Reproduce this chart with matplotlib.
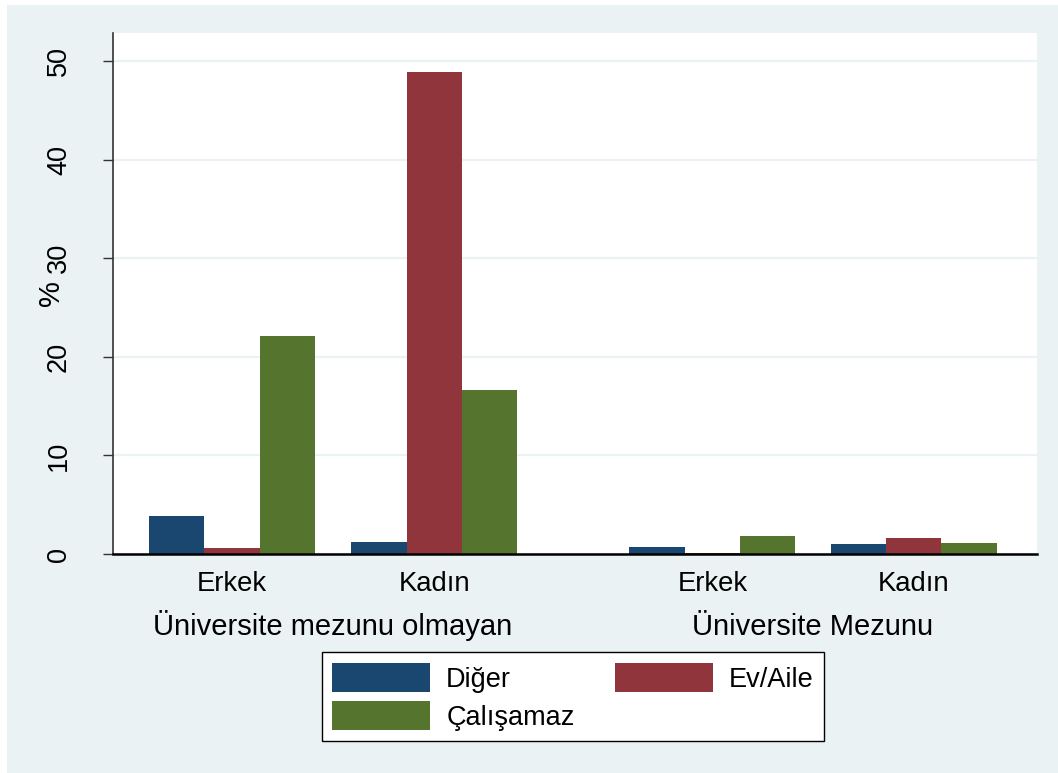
import matplotlib
matplotlib.use("Agg")
import matplotlib.pyplot as plt
from matplotlib.patches import Patch, Rectangle
import numpy as np

plt.rcParams['font.family'] = ['Liberation Sans', 'DejaVu Sans']

# veriler
kategoriler = ['Erkek', 'Kadın', 'Erkek', 'Kadın']
gruplar = ['Üniversite mezunu olmayan', 'Üniversite Mezunu']
diger = [3.9, 1.2, 0.7, 1.0]
ev_aile = [0.6, 48.9, 0.15, 1.6]
calisamaz = [22.1, 16.6, 1.8, 1.1]
seri_adlari = ['Diğer', 'Ev/Aile', 'Çalışamaz']

renkler = ['#1A476F', '#90353B', '#55752F']
arka = '#EAF2F3'

# kategori merkezleri (cubuk genisligi = 1)
merkez = np.array([2.15, 5.81, 10.84, 14.48])
grup_merkez = [(merkez[0] + merkez[1]) / 2, (merkez[2] + merkez[3]) / 2]

fig = plt.figure(figsize=(10.58, 7.73), dpi=100)
fig.patch.set_facecolor('white')
fig.patches.append(Rectangle((7 / 1058, 0), 1, 768 / 773, transform=fig.transFigure,
                             facecolor=arka, edgecolor='none', zorder=-10))

ax = fig.add_axes([113 / 1058, 1 - 554 / 773, 924 / 1058, 521 / 773])
ax.set_facecolor('white')

for i, (seri, renk) in enumerate(zip([diger, ev_aile, calisamaz], renkler)):
    ax.bar(merkez + (i - 1), seri, width=1.0, color=renk, edgecolor='none', zorder=3)

ax.set_xlim(0, 16.71)
ax.set_ylim(0, 52.84)

# eksenler
for s in ['top', 'right']:
    ax.spines[s].set_visible(False)
ax.spines['left'].set_color('#333333')
ax.spines['left'].set_linewidth(1.2)
ax.spines['bottom'].set_color('black')
ax.spines['bottom'].set_linewidth(1.8)
ax.spines['bottom'].set_zorder(5)

ax.set_yticks([0, 10, 20, 30, 40, 50])
ax.tick_params(axis='y', length=7.5, width=1, color='#333333', labelsize=19.5, pad=22)
for t in ax.get_yticklabels():
    t.set_rotation(90)
    t.set_va('center')
ax.yaxis.grid(True, color=arka, linewidth=1.6, zorder=1)
ax.set_axisbelow(True)

ax.set_xticks([])
ax.set_ylabel('%', fontsize=21)
ax.yaxis.set_label_coords(-0.052, 0.5)

# x etiketleri
for x, k in zip(merkez, kategoriler):
    ax.annotate(k, xy=(x, 0), xycoords=('data', 'axes fraction'), xytext=(0, -26.6),
                textcoords='offset points', ha='center', va='baseline', fontsize=19.8)
for x, g in zip(grup_merkez, gruplar):
    ax.annotate(g, xy=(x, 0), xycoords=('data', 'axes fraction'), xytext=(0, -58.3),
                textcoords='offset points', ha='center', va='baseline', fontsize=21)

# lejant (satir sirasi icin yeniden diz)
tutamaclar = [Patch(facecolor=r, edgecolor='none') for r in renkler]
sira = [0, 2, 1]
leg = fig.legend([tutamaclar[i] for i in sira], [seri_adlari[i] for i in sira], ncol=2,
                 loc='upper center', bbox_to_anchor=(573 / 1058, 1 - 652 / 773), fontsize=19.5,
                 frameon=True, fancybox=False, shadow=False, edgecolor='black', framealpha=1,
                 handlelength=3.6, handleheight=1.3, handletextpad=0.6, borderaxespad=0,
                 columnspacing=1.5, labelspacing=0.3, borderpad=0.4)
leg.get_frame().set_linewidth(1.0)
leg.get_frame().set_facecolor('white')

fig.savefig('out.png', dpi=100, facecolor=fig.get_facecolor())
